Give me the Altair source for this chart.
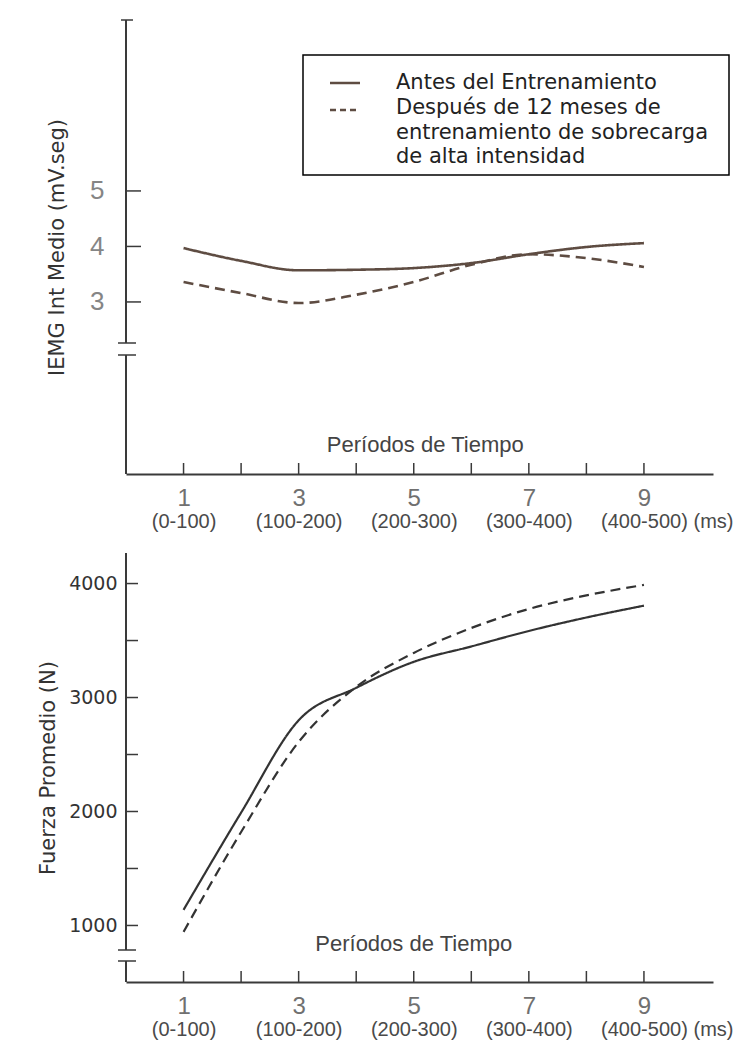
import altair as alt
import pandas as pd

# ---------------- data ----------------
periodos = [1, 2, 3, 4, 5, 6, 7, 8, 9]
iemg_antes = [3.97, 3.74, 3.57, 3.58, 3.61, 3.70, 3.86, 3.99, 4.06]
iemg_despues = [3.36, 3.16, 2.98, 3.13, 3.36, 3.67, 3.86, 3.79, 3.63]
fuerza_antes = [1137, 1990, 2800, 3085, 3313, 3448, 3584, 3702, 3806]
fuerza_despues = [944, 1820, 2610, 3093, 3391, 3610, 3777, 3896, 3988]

series = ["Antes del Entrenamiento",
          "Después de 12 meses de entrenamiento de sobrecarga de alta intensidad"]
legend_lines = ["Antes del Entrenamiento", "Después de 12 meses de",
                "entrenamiento de sobrecarga", "de alta intensidad"]

x_label_values = [1, 3, 5, 7, 9]
x_sub_labels = ["(0-100)", "(100-200)", "(200-300)", "(300-400)", "(400-500)"]
x_unit_label = "(ms)"
x_axis_title = "Períodos de Tiempo"

iemg_ticks = [3, 4, 5]
fuerza_ticks = [1000, 1500, 2000, 2500, 3000, 3500, 4000]
fuerza_labels = [1000, 2000, 3000, 4000]

# ---------------- helpers ----------------
W = 587
X_MAX = 10.2
xscale = alt.Scale(domain=[0, X_MAX], nice=False, zero=False)

def long_df(antes, despues):
    rows = []
    for p, a in zip(periodos, antes):
        rows.append({"periodo": p, "valor": a, "serie": series[0]})
    for p, d in zip(periodos, despues):
        rows.append({"periodo": p, "valor": d, "serie": series[1]})
    return pd.DataFrame(rows)

sub_expr = "".join(f"datum.value == {v} ? '{lab}' : "
                   for v, lab in zip(x_label_values, x_sub_labels)) + f"'{x_unit_label}'"

AXC = "#3a3a3a"


def panel(df, H, ydomain, ylabvals, ytickvals, ytitle, line_color, line_w,
          ylab_font, ylab_size, ylab_color, ylab_pad, title_pad,
          seg_breaks, top_cap, ytick_len, title_y, title_x_val, with_legend):
    yscale = alt.Scale(domain=ydomain, nice=False, zero=False)

    yaxis = alt.Axis(values=ylabvals, domain=False, ticks=False, grid=False,
                     format="d",
                     title=ytitle, titleFont="DejaVu Sans", titleFontSize=21,
                     titleFontWeight="normal", titleColor="#333",
                     titlePadding=title_pad,
                     labelFont=ylab_font, labelFontSize=ylab_size,
                     labelColor=ylab_color, labelPadding=ylab_pad)

    lines = alt.Chart(df).mark_line(interpolate="monotone", strokeWidth=line_w,
                                    color=line_color).encode(
        x=alt.X("periodo:Q", scale=xscale,
                axis=alt.Axis(values=x_label_values, orient="bottom", format="d",
                              domain=True, domainColor=AXC, domainWidth=2,
                              ticks=False, grid=False, title=None,
                              labelFont="Liberation Sans", labelFontSize=24,
                              labelColor="#707070", labelPadding=12,
                              labelFlush=False, labelOverlap=False)),
        y=alt.Y("valor:Q", scale=yscale, axis=yaxis),
        strokeDash=alt.StrokeDash("serie:N",
                                  scale=alt.Scale(domain=series, range=[[1, 0], [10, 6]]),
                                  legend=None),
    )

    tick_df = pd.DataFrame({"t": periodos})
    xticks = alt.Chart(tick_df).mark_rule(color=AXC, strokeWidth=1.5).encode(
        x=alt.X("t:Q", scale=xscale,
                axis=alt.Axis(values=x_label_values + [X_MAX], orient="bottom",
                              labelExpr=sub_expr, domain=False, ticks=False,
                              grid=False, title=None, labelFont="Liberation Sans",
                              labelFontSize=20, labelColor="#4a4a4a",
                              labelPadding=37, labelFlush=False,
                              labelOverlap=False)),
        y=alt.value(H), y2=alt.value(H - 11),
    )

    yt_df = pd.DataFrame({"valor": ytickvals})
    yticks = alt.Chart(yt_df).mark_rule(color=AXC, strokeWidth=1.5).encode(
        y=alt.Y("valor:Q", scale=yscale, axis=yaxis),
        x=alt.value(0), x2=alt.value(ytick_len),
    )

    layers = [lines, xticks, yticks]

    # y-axis line with break marks
    (b1, b2) = seg_breaks
    base = alt.Chart(pd.DataFrame({"a": [0]}))
    layers.append(base.mark_rule(color=AXC, strokeWidth=2).encode(
        x=alt.value(0), y=alt.value(0), y2=alt.value(b1)))
    layers.append(base.mark_rule(color=AXC, strokeWidth=2).encode(
        x=alt.value(0), y=alt.value(b2), y2=alt.value(H)))
    for yy in (b1, b2):
        layers.append(base.mark_rule(color=AXC, strokeWidth=1.5).encode(
            x=alt.value(-8), x2=alt.value(10), y=alt.value(yy)))
    if top_cap:
        layers.append(base.mark_rule(color=AXC, strokeWidth=1.5).encode(
            x=alt.value(-5), x2=alt.value(7), y=alt.value(0)))

    # x-axis title inside plot
    layers.append(alt.Chart(pd.DataFrame({"t": [x_axis_title], "x": [title_x_val]}))
                  .mark_text(font="Liberation Sans", fontSize=22, color="#444",
                             baseline="middle", align="center")
                  .encode(x=alt.X("x:Q", scale=xscale, axis=None),
                          y=alt.value(title_y), text="t:N"))

    if with_legend:
        layers.append(base.mark_rect(fill="white", stroke="black", strokeWidth=1.5).encode(
            x=alt.value(177), x2=alt.value(603), y=alt.value(35), y2=alt.value(155)))
        layers.append(base.mark_rule(color=line_color, strokeWidth=2.5).encode(
            x=alt.value(204), x2=alt.value(234), y=alt.value(63)))
        layers.append(base.mark_rule(color=line_color, strokeWidth=2.5,
                                     strokeDash=[6, 4]).encode(
            x=alt.value(204), x2=alt.value(234), y=alt.value(90)))
        leg_y = [63, 88, 113, 137]
        for txt, yy in zip(legend_lines, leg_y):
            layers.append(base.mark_text(
                font="DejaVu Sans", fontSize=21, color="#222", align="left",
                baseline="middle", text=txt).encode(
                x=alt.value(270), y=alt.value(yy)))

    return alt.layer(*layers).properties(width=W, height=H).resolve_axis(x="independent")


top = panel(long_df(iemg_antes, iemg_despues), 454, [-0.1, 8.08], iemg_ticks,
            iemg_ticks, "IEMG Int Medio (mV.seg)", "#5e4c42", 2.6,
            "Liberation Sans Narrow, Liberation Sans", 26, "#858585", 22, 22,
            (323, 335), True, 15, 425, 5.2, True)

bottom = panel(long_df(fuerza_antes, fuerza_despues), 429, [504, 4268], fuerza_labels,
               fuerza_ticks, "Fuerza Promedio (N)", "#333333", 2.2,
               "DejaVu Sans", 19, "#333", 9, 10,
               (397, 408), False, 12, 391, 5.0, False)

chart = alt.vconcat(top, bottom, spacing=21).properties(
    padding={"left": 37, "top": 19, "right": 5, "bottom": 5},
    background="white",
).configure_view(stroke=None)

chart.save("out.html", embed_options={"renderer": "svg", "actions": False})
